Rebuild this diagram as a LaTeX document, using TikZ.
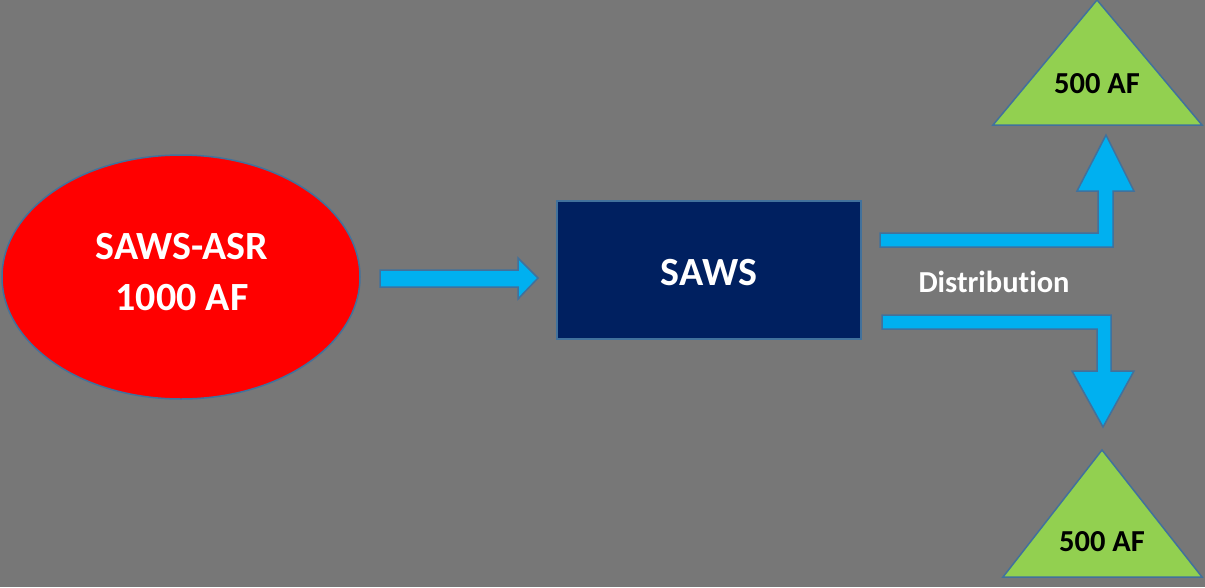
\documentclass[tikz,border=0pt]{standalone}
\usepackage{fontspec}
\setmainfont[Ligatures={NoCommon}]{Carlito}
\usetikzlibrary{shapes.geometric}
\definecolor{bg}{RGB}{119,119,119}
\definecolor{edgeblue}{RGB}{65,113,156}
\definecolor{arrowblue}{RGB}{0,176,240}
\definecolor{navy}{RGB}{0,32,96}
\definecolor{leaf}{RGB}{146,208,80}
\tikzset{
  shape outline/.style={draw=edgeblue, line width=1.5pt},
  bigarrow/.style={shape outline, fill=arrowblue, line join=miter},
  big text/.style={text=white, font=\bfseries\fontsize{40}{51}\selectfont},
  label text/.style={font=\bfseries\fontsize{30.5}{36}\selectfont},
}
\begin{document}
\begin{tikzpicture}[x=1pt,y=-1pt]
\fill[bg] (0,0) rectangle (1205,587);
\useasboundingbox (0,0) rectangle (1205,587);
% source ellipse
\draw[shape outline, fill=red] (181,277) ellipse [x radius=179, y radius=122];
\node[align=center, big text] (src) at (182,272) {SAWS-ASR\\1000 AF};
% SAWS box
\draw[shape outline, fill=navy] (557,201) rectangle (861,339);
\node[big text] (saws) at (709,273) {SAWS};
% arrow to SAWS
\draw[bigarrow] (380,270) -- (518,270) -- (518,258) -- (538,278) -- (518,299) -- (518,287) -- (380,287) -- cycle;
% up arrow
\draw[bigarrow] (880,233) -- (1098,233) -- (1098,191) -- (1077,191) -- (1106,135) -- (1134,191) -- (1113,191) -- (1113,247) -- (880,247) -- cycle;
% down arrow
\draw[bigarrow] (882,315) -- (1111,315) -- (1111,371) -- (1134,371) -- (1103,427) -- (1072,371) -- (1097,371) -- (1097,329) -- (882,329) -- cycle;
\node[text=white, label text] (dist) at (994,282) {Distribution};
% triangles
\draw[shape outline, fill=leaf] (993,125) -- (1097,0) -- (1202,125) -- cycle;
\node[label text] (t1) at (1097,84) {500 AF};
\draw[shape outline, fill=leaf] (1003,577) -- (1102,450) -- (1202,577) -- cycle;
\node[label text] (t2) at (1102,542) {500 AF};
\end{tikzpicture}
\end{document}
